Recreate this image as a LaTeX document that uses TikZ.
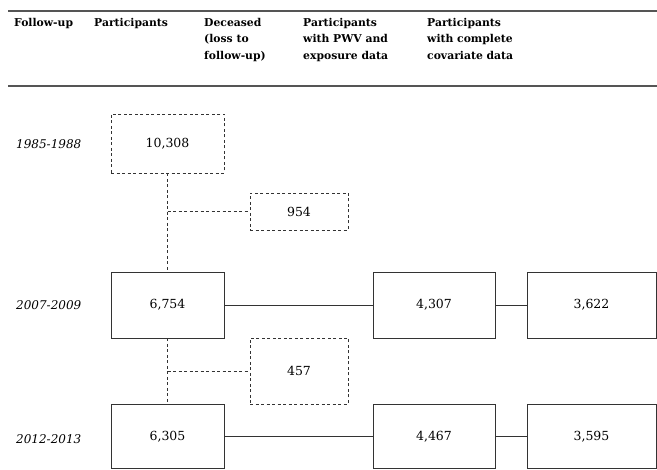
\documentclass[tikz,border=0pt]{standalone}
\usepackage{fontspec}
\setmainfont{DejaVu Serif}
\usetikzlibrary{positioning}
\definecolor{linegray}{HTML}{333333}
\definecolor{rulegray}{HTML}{555555}
\tikzset{
x=1pt, y=-1pt, % one unit is one pixel of the figure, y runs downwards
every node/.style={inner sep=0pt, text=black},
count/.style={draw=linegray, line width=0.9pt, font=\fontsize{12.5}{14}\selectfont, minimum height=66pt}, % boxes with participant numbers
lost/.style={count, dashed, dash pattern=on 3pt off 2.5pt}, % boxes with deceased
head/.style={anchor=north west, align=left, font=\fontsize{10.8}{16.5}\selectfont\bfseries}, % column headings
year/.style={anchor=west, font=\fontsize{12}{14}\selectfont\itshape}, % follow-up periods
link/.style={draw=linegray, line width=0.9pt},
}

\begin{document}
\begin{tikzpicture}
    \useasboundingbox (0,0) rectangle (657,470);
    % heading
    \draw[rulegray, line width=1.8pt] (8,11) -- (657,11);
    \draw[rulegray, line width=1.8pt] (8,86) -- (657,86);
    \node[head] (hfollow) at (14,18) {Follow-up};
    \node[head] (hpart) at (94,18) {Participants};
    \node[head] (hdead) at (204,18) {Deceased\\(loss to\\follow-up)};
    \node[head] (hpwv) at (303,18) {Participants\\with PWV and\\exposure data};
    \node[head] (hcov) at (427,18) {Participants\\with complete\\covariate data};

    % follow-up periods
    \node[year] (y1) at (16,144) {1985-1988};
    \node[year] (y2) at (16,305) {2007-2009};
    \node[year] (y3) at (16,439) {2012-2013};

    % boxes
    \node[lost, minimum width=113pt, minimum height=59pt] (n10308) at (167.5,143.5) {10,308};
    \node[lost, minimum width=98pt, minimum height=37pt] (n954) at (299,211.5) {954};
    \node[count, minimum width=113pt] (n6754) at (167.5,305) {6,754};
    \node[count, minimum width=122pt] (n4307) at (434,305) {4,307};
    \node[count, minimum width=129pt] (n3622) at (591.5,305) {3,622};
    \node[lost, minimum width=98pt] (n457) at (299,371) {457};
    \node[count, minimum width=113pt, minimum height=64pt] (n6305) at (167.5,436.5) {6,305};
    \node[count, minimum width=122pt, minimum height=64pt] (n4467) at (434,436.5) {4,467};
    \node[count, minimum width=129pt, minimum height=64pt] (n3595) at (591.5,436.5) {3,595};

    % connectors
    \coordinate (b1) at (n10308.south |- n954.west);
    \coordinate (b2) at (n6754.south |- n457.west);
    \draw[link, dashed, dash pattern=on 3pt off 2.5pt]
    (n10308) -- (n6754)
    (b1) -- (n954)
    (n6754) -- (n6305)
    (b2) -- (n457);
    \draw[link]
    (n6754) -- (n4307)
    (n4307) -- (n3622)
    (n6305) -- (n4467)
    (n4467) -- (n3595);
\end{tikzpicture}
\end{document}
